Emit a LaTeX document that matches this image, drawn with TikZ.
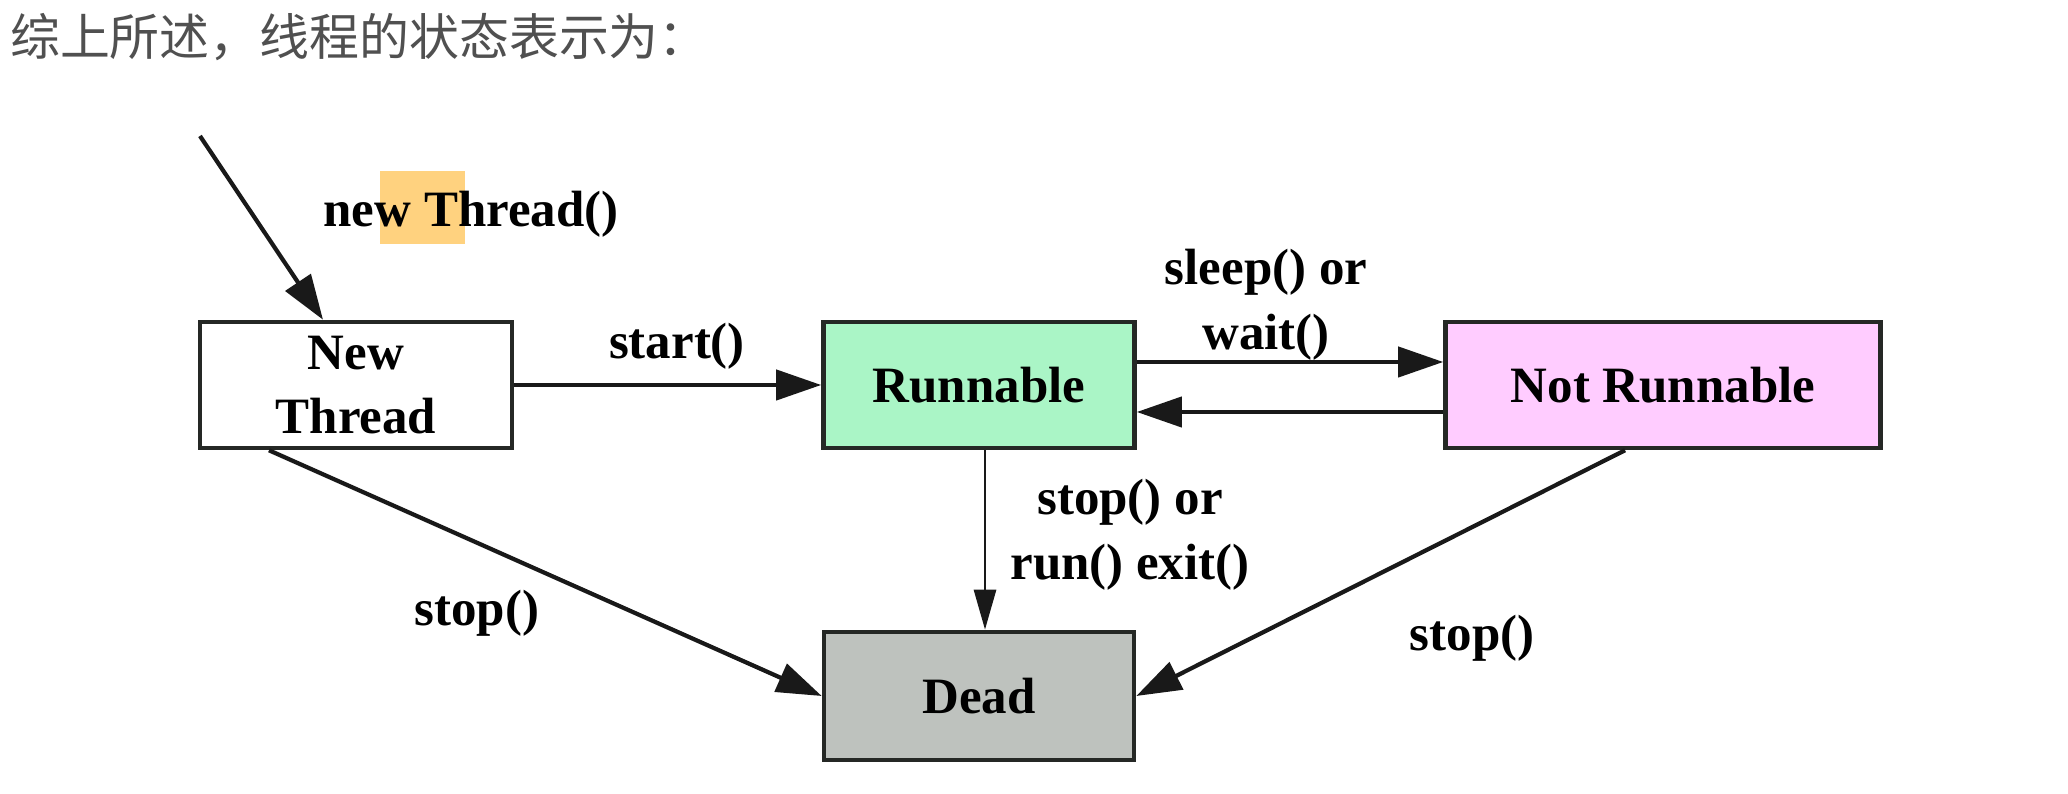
\documentclass[tikz,border=0pt]{standalone}
\usepackage{fontspec}
\setmainfont{Liberation Serif}
\newfontfamily\cjkfont{Noto Sans CJK SC}
\usetikzlibrary{arrows.meta}
\definecolor{runfill}{HTML}{AAF5C6}
\definecolor{notrunfill}{HTML}{FFCCFF}
\definecolor{deadfill}{HTML}{BEC2BE}
\definecolor{hlfill}{HTML}{FFD27F}
\definecolor{titlegray}{HTML}{505050}
\definecolor{boxline}{HTML}{252825}
\tikzset{
        statenode/.style={align=center, rectangle, draw=boxline, line width=1.3pt, inner sep=0pt,
            minimum height=12.6mm, font=\bfseries\fontsize{14.5}{18}\selectfont},
        % New thread state
        node_new/.style={statenode, fill=white, minimum width=31.2mm},
        % Runnable state
        node_run/.style={statenode, fill=runfill, minimum width=31.1mm},
        % Not runnable state
        node_notrun/.style={statenode, fill=notrunfill, minimum width=43.5mm},
        % Dead state
        node_dead/.style={statenode, fill=deadfill, minimum width=31mm, minimum height=12.8mm},
        % Edge labels
        edge_label/.style={align=center, inner sep=0pt, font=\bfseries\fontsize{14.5}{18.5}\selectfont},
        % Highlight mark
        node_mark/.style={rectangle, fill=hlfill, inner sep=0pt, minimum width=8.5mm, minimum height=7.3mm}
}

\begin{document}
\begin{tikzpicture}[
            x=0.1mm, y=-0.1mm,
            ->, >={Triangle[length=4.5mm, width=3mm]},
            line width=1.2pt, draw=black!90
        ]
            \useasboundingbox (0,0) rectangle (2068,794);
            \node[anchor=west, inner sep=0pt, text=titlegray, font=\cjkfont\fontsize{14.2}{17}\selectfont] (title) at (8,37) {综上所述，线程的状态表示为：};

            \node[node_new] (new) at (356,385) {New\\Thread};
            \node[node_run] (run) at (979,385) {Runnable};
            \node[node_notrun] (notrun) at (1663,385) {Not Runnable};
            \node[node_dead] (dead) at (979,696) {Dead};

            \coordinate (init) at (200,136);
            \node[node_mark] (mark) at (422,208) {};
            \node[edge_label] (lnew) at (471,214) {new Thread()};

            \draw (init) -- ([xshift=-3.3mm]new.north);
            \draw (new.east) -- (run.west);
            \node[edge_label] (lstart) at (677,346) {start()};
            \draw ([yshift=2.3mm]run.east) -- ([yshift=2.3mm]notrun.west);
            \draw ([yshift=-2.7mm]notrun.west) -- ([yshift=-2.7mm]run.east);
            \node[edge_label] (lsleep) at (1266,305) {sleep() or\\wait()};
            \draw[line width=0.8pt, >={Triangle[length=4mm, width=2.2mm]}] ([xshift=0.6mm]run.south) -- ([xshift=0.6mm]dead.north);
            \node[edge_label] (lexit) at (1130,535) {stop() or\\run() exit()};
            \draw ([xshift=-8.7mm]new.south) -- (dead.west);
            \node[edge_label] (lstop1) at (477,613) {stop()};
            \draw ([xshift=-3.8mm]notrun.south) -- (dead.east);
            \node[edge_label] (lstop2) at (1472,638) {stop()};
        \end{tikzpicture}
\end{document}
